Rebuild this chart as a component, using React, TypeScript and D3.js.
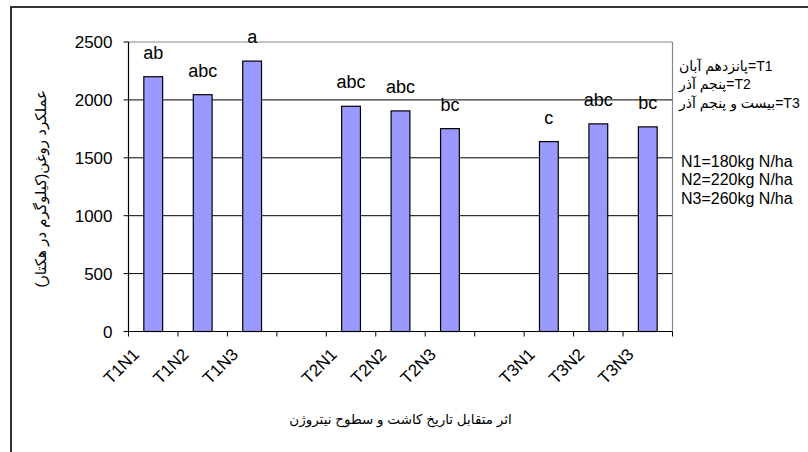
import React from "react";
import * as d3 from "d3";

// slots include empty gaps between sowing dates
const categories = ["T1N1", "T1N2", "T1N3", "", "T2N1", "T2N2", "T2N3", "", "T3N1", "T3N2", "T3N3"];
const oilYield = [2200, 2045, 2335, null, 1945, 1905, 1752, null, 1640, 1793, 1767];
const letters = ["ab", "abc", "a", "", "abc", "abc", "bc", "", "c", "abc", "bc"];
const yTicks = [0, 500, 1000, 1500, 2000, 2500];
const legendDates = ["پانزدهم آبان=T1", "پنجم آذر=T2", "بیست و پنجم آذر=T3"];
const legendN = ["N1=180kg N/ha", "N2=220kg N/ha", "N3=260kg N/ha"];
const yTitle = "عملکرد روغن(کیلوگرم در  هکتار)";
const xTitle = "اثر متقابل تاریخ کاشت و سطوح  نیتروژن";

const W = 808;
const H = 452;
const font = "'Liberation Sans', Arial, 'DejaVu Sans', sans-serif";

const App = () => {
  const left = 128.5;
  const right = 672.5;
  const top = 42;
  const bottom = 331.5;

  const x = d3
    .scaleBand<number>()
    .domain(d3.range(categories.length))
    .range([left, right])
    .paddingInner(0.62)
    .paddingOuter(0.31);
  const y = d3.scaleLinear().domain([0, 2500]).range([bottom, top]);
  const step = x.step();

  return (
    <svg
      width={W}
      height={H}
      style={{ position: "absolute", left: 0, top: 0, background: "#fff" }}
      fontFamily={font}
    >
      {/* outer frame */}
      <rect x={11} y={7} width={820} height={470} fill="none" stroke="#333" strokeWidth={2} />

      {/* gridlines */}
      {yTicks.slice(1, -1).map((t) => (
        <line key={t} x1={left} x2={right} y1={y(t)} y2={y(t)} stroke="#000" strokeWidth={1} />
      ))}
      {/* plot border top/right */}
      <line x1={left} x2={right} y1={y(2500)} y2={y(2500)} stroke="#888" strokeWidth={1.2} />
      <line x1={right} x2={right} y1={top} y2={bottom} stroke="#888" strokeWidth={1.2} />

      {/* bars */}
      {oilYield.map((v, i) =>
        v == null ? null : (
          <rect
            key={i}
            x={x(i)}
            y={y(v)}
            width={x.bandwidth()}
            height={bottom - y(v)}
            fill="#9999FF"
            stroke="#000"
            strokeWidth={1.2}
          />
        )
      )}

      {/* letters */}
      {oilYield.map((v, i) =>
        v == null ? null : (
          <text
            key={i}
            x={(x(i) as number) + x.bandwidth() / 2}
            y={y(v) - 18}
            textAnchor="middle"
            fontSize={18}
            fill="#000"
          >
            {letters[i]}
          </text>
        )
      )}

      {/* y axis */}
      <line x1={left} x2={left} y1={top} y2={bottom} stroke="#000" strokeWidth={1.2} />
      {yTicks.map((t) => (
        <g key={t}>
          <line x1={left - 5} x2={left} y1={y(t)} y2={y(t)} stroke="#000" />
          <text x={left - 16} y={y(t)} dy="0.36em" textAnchor="end" fontSize={17} fill="#000">
            {t}
          </text>
        </g>
      ))}

      {/* x axis */}
      <line x1={left} x2={right} y1={bottom} y2={bottom} stroke="#000" strokeWidth={1.2} />
      {d3.range(categories.length + 1).map((i) => (
        <line key={i} x1={left + i * step} x2={left + i * step} y1={bottom} y2={bottom + 5} stroke="#000" />
      ))}
      {categories.map((c, i) =>
        c ? (
          <text
            key={i}
            transform={`translate(${(x(i) as number) + x.bandwidth() / 2 - 13},${bottom + 24}) rotate(-45)`}
            textAnchor="end"
            fontSize={17}
            fill="#000"
          >
            {c}
          </text>
        ) : null
      )}

      {/* axis titles */}
      <text
        transform={`translate(46,${(top + bottom) / 2 + 2}) rotate(-90)`}
        textAnchor="middle"
        fontSize={15}
        fill="#000"
      >
        {yTitle}
      </text>
      <text x={(left + right) / 2} y={424} textAnchor="middle" fontSize={13.5} fill="#000">
        {xTitle}
      </text>

      {/* legend text */}
      {legendDates.map((t, i) => (
        <text key={t} x={679} y={66 + i * 18.5} dy="0.35em" fontSize={14} fill="#000" direction="ltr">
          {t}
        </text>
      ))}
      {legendN.map((t, i) => (
        <text key={t} x={681} y={161 + i * 18.5} dy="0.35em" fontSize={16} fill="#000">
          {t}
        </text>
      ))}
    </svg>
  );
};

export default App;
